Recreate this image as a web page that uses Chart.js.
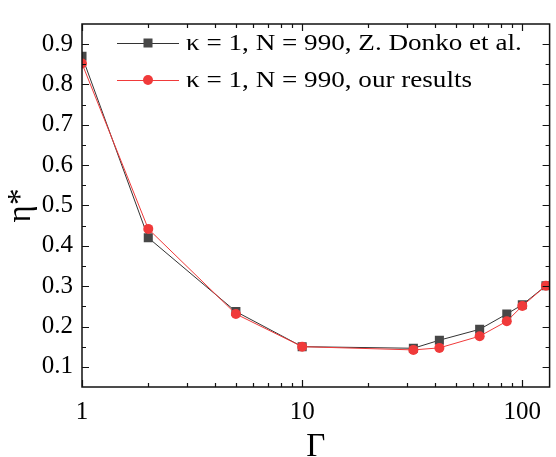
<!DOCTYPE html>
<html>
<head>
<meta charset="utf-8">
<script src="https://cdn.jsdelivr.net/npm/chart.js@4/dist/chart.umd.min.js"></script>
<style>
  html, body { margin: 0; padding: 0; background: #fff; }
  #wrap { width: 556px; height: 457px; position: relative; }
</style>
</head>
<body>
<div id="wrap"><canvas id="chart" width="556" height="457"></canvas></div>
<script>
// data
const gamma = [1, 2, 5, 10, 32, 42, 64, 85, 100, 128];
const donko = [0.870, 0.420, 0.237, 0.150, 0.146, 0.166, 0.193, 0.231, 0.254, 0.301];
const ours  = [0.852, 0.442, 0.231, 0.150, 0.142, 0.147, 0.176, 0.213, 0.251, 0.301];

const seriesNames = ["κ = 1, N = 990, Z. Donko et al.", "κ = 1, N = 990, our results"];
const xTickLabels = [1, 10, 100];
const xMinorTicks = [2, 3, 4, 5, 6, 7, 8, 9, 20, 30, 40, 50, 60, 70, 80, 90];
const yTickLabels = [0.1, 0.2, 0.3, 0.4, 0.5, 0.6, 0.7, 0.8, 0.9];
const yMinorTicks = [0.15, 0.25, 0.35, 0.45, 0.55, 0.65, 0.75, 0.85];

const SERIF = "Liberation Serif, DejaVu Serif, serif";
const BLACK = "#474747";
const RED = "#f03a3a";

const pts = (xs, ys) => xs.map((x, i) => ({ x: x, y: ys[i] }));

// frame, inward ticks and the in-plot legend
const framePlugin = {
  id: "frame",
  afterDraw(chart) {
    const ctx = chart.ctx;
    const a = chart.chartArea;
    const xs = chart.scales.x, ys = chart.scales.y;
    ctx.save();
    ctx.strokeStyle = "#111";
    ctx.lineWidth = 1.5;
    ctx.strokeRect(a.left, a.top, a.right - a.left, a.bottom - a.top);

    ctx.lineWidth = 1.2;
    ctx.beginPath();
    const xt = (v, len) => {
      const px = Math.round(xs.getPixelForValue(v)) + 0.5;
      ctx.moveTo(px, a.bottom); ctx.lineTo(px, a.bottom - len);
      ctx.moveTo(px, a.top); ctx.lineTo(px, a.top + len);
    };
    const yt = (v, len) => {
      const py = Math.round(ys.getPixelForValue(v)) + 0.5;
      ctx.moveTo(a.left, py); ctx.lineTo(a.left + len, py);
      ctx.moveTo(a.right, py); ctx.lineTo(a.right - len, py);
    };
    xTickLabels.forEach(v => xt(v, 7));
    xMinorTicks.forEach(v => xt(v, 4));
    yTickLabels.forEach(v => yt(v, 7));
    yMinorTicks.forEach(v => yt(v, 4));
    ctx.stroke();

    // legend (text is a little wide in the original, so stretch it)
    const rows = [43, 80];
    chart.data.datasets.forEach((ds, i) => {
      const y = rows[i];
      ctx.strokeStyle = ds.borderColor;
      ctx.lineWidth = 1;
      ctx.beginPath();
      ctx.moveTo(117, y + 0.5); ctx.lineTo(179, y + 0.5);
      ctx.stroke();
      ctx.fillStyle = ds.pointBackgroundColor;
      if (ds.pointStyle === "rect") {
        ctx.fillRect(148 - 4.5, y - 4.5, 9, 9);
      } else {
        ctx.beginPath(); ctx.arc(148, y, 5, 0, Math.PI * 2); ctx.fill();
      }
      ctx.save();
      ctx.translate(186, y + 1);
      ctx.scale(1.13, 1);
      ctx.fillStyle = "#000";
      ctx.font = "24px " + SERIF;
      ctx.textBaseline = "middle";
      ctx.fillText(ds.label, 0, 0);
      ctx.restore();
    });
    ctx.restore();
  }
};

new Chart(document.getElementById("chart"), {
  type: "line",
  data: {
    datasets: [
      {
        label: seriesNames[0],
        data: pts(gamma, donko),
        borderColor: "#333",
        borderWidth: 1,
        pointStyle: "rect",
        pointRadius: 6.4,
        pointBackgroundColor: BLACK,
        pointBorderWidth: 0,
        order: 1
      },
      {
        label: seriesNames[1],
        data: pts(gamma, ours),
        borderColor: RED,
        borderWidth: 1,
        pointStyle: "circle",
        pointRadius: 5,
        pointBackgroundColor: RED,
        pointBorderWidth: 0,
        order: 0
      }
    ]
  },
  options: {
    responsive: false,
    animation: false,
    layout: { padding: { top: 7, right: 1, left: 0, bottom: 0 } },
    plugins: { legend: { display: false }, tooltip: { enabled: false } },
    scales: {
      x: {
        type: "logarithmic",
        min: 1,
        max: 133,
        grid: { display: false, drawTicks: false },
        border: { display: false },
        afterBuildTicks: s => { s.ticks = xTickLabels.concat(xMinorTicks).sort((a, b) => a - b).map(v => ({ value: v })); },
        afterFit: s => { s.height = 70; },
        ticks: {
          autoSkip: false,
          maxRotation: 0,
          padding: 10,
          color: "#000",
          font: { family: SERIF, size: 25 },
          callback: v => xTickLabels.includes(v) ? String(v) : ""
        },
        title: {
          display: true,
          text: "Γ",
          color: "#000",
          font: { family: SERIF, size: 33 },
          padding: { top: 0, bottom: -10 }
        }
      },
      y: {
        min: 0.05,
        max: 0.95,
        grid: { display: false, drawTicks: false },
        border: { display: false },
        afterBuildTicks: s => { s.ticks = yTickLabels.map(v => ({ value: v })); },
        afterFit: s => { s.width = 82; },
        ticks: {
          padding: 9,
          color: "#000",
          font: { family: SERIF, size: 25 },
          callback: v => v.toFixed(1)
        },
        title: {
          display: true,
          text: "η*",
          color: "#000",
          font: { family: SERIF, size: 33 },
          padding: { top: 2, bottom: 0 }
        }
      }
    }
  },
  plugins: [framePlugin]
});
</script>
</body>
</html>
